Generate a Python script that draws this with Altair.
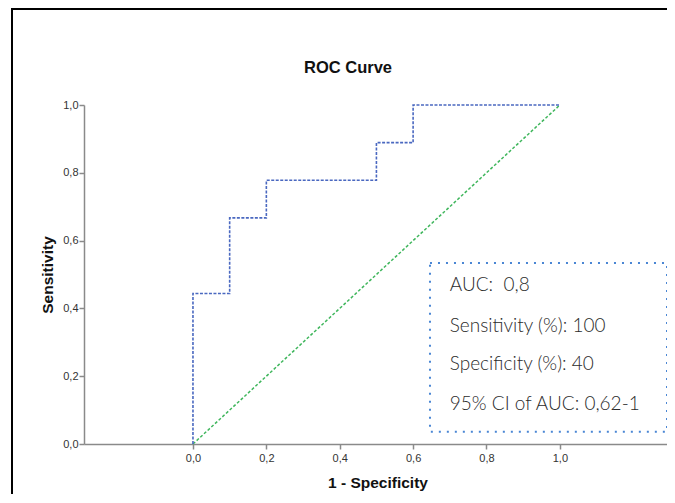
import altair as alt
import pandas as pd

# ROC curve points (1 - specificity, sensitivity)
roc_fpr = [0.0, 0.0, 0.1, 0.1, 0.2, 0.2, 0.5, 0.5, 0.6, 0.6, 1.0]
roc_tpr = [0.0, 0.444, 0.444, 0.667, 0.667, 0.778, 0.778, 0.889, 0.889, 1.0, 1.0]

# reference diagonal
ref_x = [0.0, 1.0]
ref_y = [0.0, 1.0]

# tick values
tick_vals = [0.0, 0.2, 0.4, 0.6, 0.8, 1.0]

# annotation box (data coordinates)
box_x = [0.646]
box_x2 = [1.292]
box_y = [0.534]
box_y2 = [0.036]

# annotation text
note_lines = ["AUC:\u00a0 0,8", "Sensitivity (%): 100", "Specificity (%): 40", "95% CI of AUC: 0,62-1"]
note_x = [0.70, 0.70, 0.70, 0.70]
note_y = [0.4695, 0.349, 0.237, 0.119]

roc_df = pd.DataFrame({"fpr": roc_fpr, "tpr": roc_tpr, "order": list(range(len(roc_fpr)))})
ref_df = pd.DataFrame({"fpr": ref_x, "tpr": ref_y, "order": [0, 1]})
box_df = pd.DataFrame({"x": box_x, "x2": box_x2, "y": box_y, "y2": box_y2})
note_df = pd.DataFrame({"x": note_x, "y": note_y, "label": note_lines})

label_expr = "replace(format(datum.value, '.1f'), '.', ',')"

xscale = alt.Scale(domain=[-0.297, 1.292], nice=False, zero=False)
yscale = alt.Scale(domain=[0, 1], nice=False, zero=False)

xaxis = alt.Axis(
    values=tick_vals, labelExpr=label_expr, title="1 - Specificity",
    grid=False, domainColor="#8a8a8a", domainWidth=1.5, tickColor="#8a8a8a",
    tickWidth=1.5, tickSize=5, labelFont="Arial", labelFontSize=11,
    labelColor="#333333", labelPadding=3, titleFont="Arial", titleFontSize=15.5,
    titleFontWeight="bold", titleColor="#111111", titleX=293.5, titleY=38,
    titleBaseline="middle", titleAlign="center",
)
yaxis = alt.Axis(
    values=tick_vals, labelExpr=label_expr, title="Sensitivity",
    grid=False, domainColor="#8a8a8a", domainWidth=1.5, tickColor="#8a8a8a",
    tickWidth=1.5, tickSize=5, labelFont="Arial", labelFontSize=11,
    labelColor="#333333", labelPadding=1, titleFont="Arial", titleFontSize=15.5,
    titleFontWeight="bold", titleColor="#111111", titleX=-37, titleY=169.5,
    titleBaseline="middle", titleAlign="center", titleAngle=-90,
)

roc = alt.Chart(roc_df).mark_line(
    color="#4a68c0", strokeWidth=1.6, strokeDash=[3, 1.5], interpolate="linear"
).encode(
    x=alt.X("fpr:Q", scale=xscale, axis=xaxis),
    y=alt.Y("tpr:Q", scale=yscale, axis=yaxis),
    order="order:Q",
)

ref = alt.Chart(ref_df).mark_line(
    color="#3fb65c", strokeWidth=1.5, strokeDash=[3, 2]
).encode(x="fpr:Q", y="tpr:Q", order="order:Q")

box = alt.Chart(box_df).mark_rect(
    fill=None, fillOpacity=0, stroke="#4a86d4", strokeWidth=2, strokeDash=[2, 6]
).encode(x="x:Q", x2="x2", y="y:Q", y2="y2")

notes = alt.Chart(note_df).mark_text(
    align="left", baseline="middle", font="Lato", fontSize=19, fontWeight=300,
    color="#2b2b2b"
).encode(x="x:Q", y="y:Q", text="label:N")

frame_df = alt.Data(values=[{"a": 1}])
frame_left = alt.Chart(frame_df).mark_rule(color="black", strokeWidth=2).encode(
    x=alt.value(-72), y=alt.value(-97), y2=alt.value(500)
)
frame_top = alt.Chart(frame_df).mark_rule(color="black", strokeWidth=2).encode(
    x=alt.value(-73), x2=alt.value(700), y=alt.value(-96)
)

chart = alt.layer(frame_left, frame_top, ref, roc, box, notes).properties(
    width=583, height=339,
    title=alt.TitleParams(
        "ROC Curve", font="Arial", fontSize=16.5, fontWeight="bold", color="#111111",
        anchor="middle", dx=-27.5, offset=0, dy=69,
    ),
    autosize=alt.AutoSizeParams(type="none"),
    padding={"left": 76, "top": 97, "right": 0, "bottom": 50},
    background="white",
).configure_view(stroke=None)

chart.save("out.html", embed_options={"renderer": "svg", "actions": False})
